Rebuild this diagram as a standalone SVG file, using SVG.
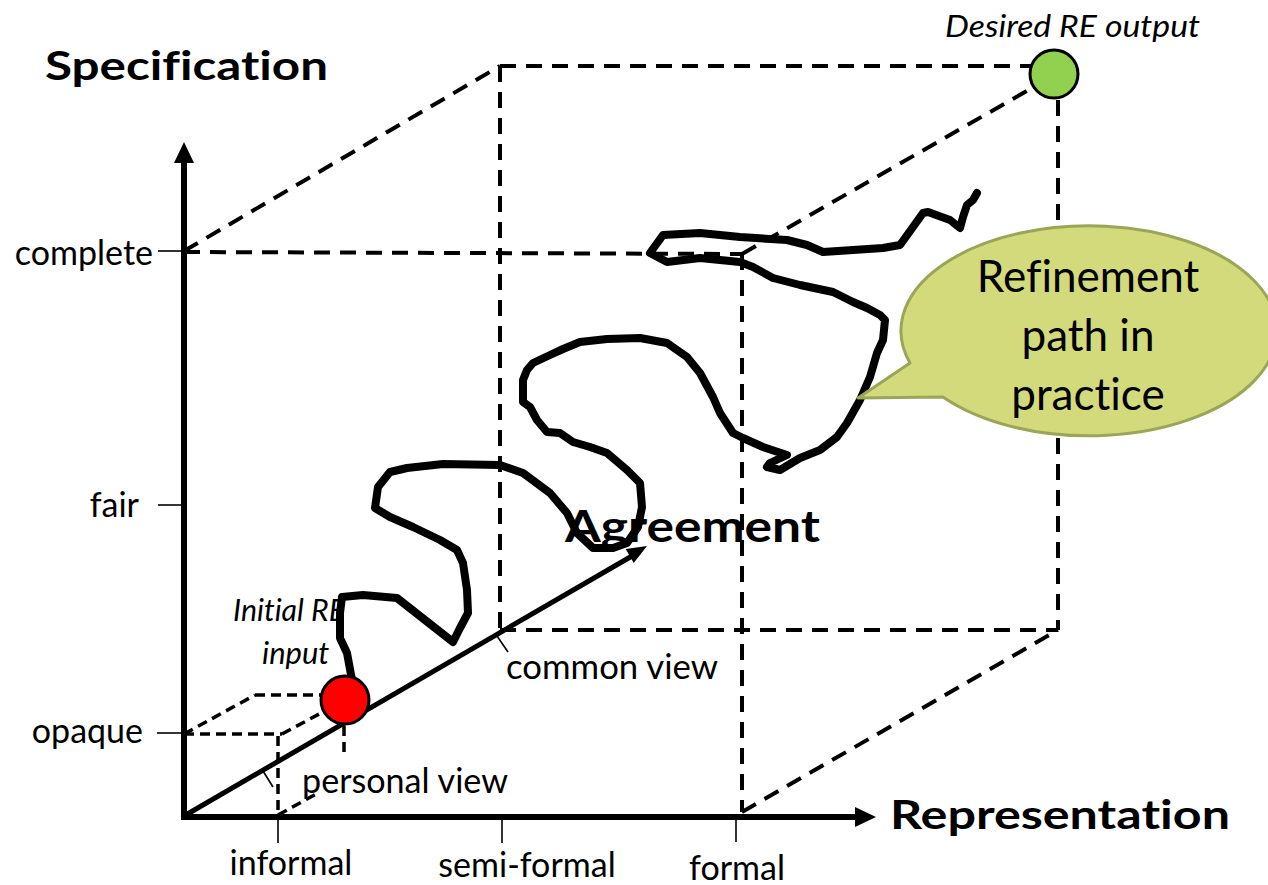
<svg xmlns="http://www.w3.org/2000/svg" width="1268" height="885" viewBox="0 0 1268 885">
  <style>
    text { font-family: Lato, "Liberation Sans", sans-serif; fill: #000; font-variant-ligatures: none; }
    .axis-title { font-weight: bold; font-size: 41px; }
    .label { font-size: 34px; }
    .note { font-size: 31px; font-style: italic; }
    .bubble-text { font-size: 44px; text-anchor: middle; }
    .axis { stroke: #000; stroke-width: 6; fill: none; }
    .tick { stroke: #000; stroke-width: 1.6; fill: none; }
    .edge { stroke: #000; stroke-width: 4; stroke-dasharray: 16 10; fill: none; }
    .edge-small { stroke: #000; stroke-width: 3.5; stroke-dasharray: 10 6; fill: none; }
    .route { stroke: #000; stroke-width: 8; fill: none; stroke-linejoin: round; stroke-linecap: round; }
  </style>

  <rect width="1268" height="885" fill="#fff"/>

  <!-- Cube edges and projection lines -->
  <g id="connectors">
    <path class="edge" d="M184,251 L500,66"/>
    <path class="edge" d="M500,66 L1032,66"/>
    <path class="edge" d="M500,66 L500,630"/>
    <path class="edge" d="M500,630 L1058,630"/>
    <path class="edge" d="M1058,100 L1058,630"/>
    <path class="edge" d="M184,252 L742,254"/>
    <path class="edge" d="M742,254 L742,812"/>
    <path class="edge" d="M742,254 L1032,88"/>
    <path class="edge" d="M742,812 L1058,630"/>

    <path class="edge-small" d="M184,734 L282,734"/>
    <path class="edge-small" d="M184,734 L255,695"/>
    <path class="edge-small" d="M255,695 L322,695"/>
    <path class="edge-small" d="M282,734 L321,713"/>
    <path class="edge-small" d="M278,736 L278,815"/>
    <path class="edge-small" d="M278,815 L318,793"/>
    <path class="edge-small" d="M344,726 L344,752"/>

    <!-- leader ticks on the agreement axis -->
    <path class="tick" d="M263,771 L273,787"/>
    <path class="tick" d="M497,636 L508,652"/>
  </g>

  <!-- Axes -->
  <g id="axes">
    <path class="axis" d="M184,816 L184,158"/>
    <polygon points="184,142 174,163 194,163" fill="#000"/>
    <path class="axis" d="M181,817 L858,817"/>
    <polygon points="876,817 855,807 855,827" fill="#000"/>
    <path style="stroke:#000;stroke-width:5;fill:none" d="M184,816 L632,556"/>
    <polygon points="647,546 633.7,562.9 625.7,549.1" fill="#000"/>

    <path class="tick" d="M158,251 L184,251"/>
    <path class="tick" d="M158,505 L184,505"/>
    <path class="tick" d="M157,733 L184,733"/>
    <path class="tick" d="M278,817 L278,843"/>
    <path class="tick" d="M502,818 L502,843"/>
    <path class="tick" d="M736,818 L736,842"/>

    <text class="axis-title" x="45" y="80" textLength="283" lengthAdjust="spacingAndGlyphs">Specification</text>
    <text class="axis-title" x="890" y="829" textLength="340" lengthAdjust="spacingAndGlyphs">Representation</text>
    <text class="axis-title" x="565" y="542" style="font-size:43px" textLength="255" lengthAdjust="spacingAndGlyphs">Agreement</text>

    <text class="label" x="153" y="265" text-anchor="end">complete</text>
    <text class="label" x="139" y="517" text-anchor="end">fair</text>
    <text class="label" x="143" y="743" text-anchor="end">opaque</text>
    <text class="label" x="291" y="875" text-anchor="middle">informal</text>
    <text class="label" x="527" y="877" text-anchor="middle">semi-formal</text>
    <text class="label" x="737" y="880" text-anchor="middle">formal</text>
    <text class="label" x="506" y="679" textLength="212" lengthAdjust="spacingAndGlyphs">common view</text>
    <text class="label" x="302" y="793" textLength="206" lengthAdjust="spacingAndGlyphs">personal view</text>
  </g>

  <!-- Refinement path as it happens in practice -->
  <g id="refinement-path">
    <polyline class="route" points="352,680 347,653 340,638 340,613 342,597 363,595 397,598 453,642 460,628 468,613 467,590 463,563 457,550 440,540 413,527 390,517 375,508 378,487 390,472 407,468 443,464 500,465 523,473 550,493 567,513 577,533 593,548 613,548 627,543 638,527 642,507 640,483 627,470 607,453 590,447 573,442 560,433 547,432 537,420 530,407 523,402 523,380 527,370 533,363 550,355 563,349 580,342 607,339 640,338 667,343 687,357 700,373 713,397 720,413 733,433 743,438 763,447 787,455 770,463 767,467 780,470 800,458 820,450 837,437 847,423 860,400 870,377 877,353 883,340 885,320 880,315 867,308 853,302 843,297 833,292 800,285 773,278 753,267 740,262 700,258 667,262 650,253 663,235 700,233 740,237 787,240 807,245 823,252 883,248 900,245 913,227 923,213 928,212 950,220 960,228 963,217 967,205 973,200 977,193"/>
  </g>

  <!-- Starting point -->
  <g id="initial-input">
    <circle cx="345" cy="700" r="24" fill="#ff0000" stroke="#000" stroke-width="3"/>
    <text class="note" x="233" y="621" textLength="112" lengthAdjust="spacingAndGlyphs">Initial RE</text>
    <text class="note" x="262" y="664">input</text>
  </g>

  <!-- Target point -->
  <g id="desired-output">
    <circle cx="1054" cy="74" r="24" fill="#92d050" stroke="#000" stroke-width="3"/>
    <text class="note" x="945" y="37" textLength="255" lengthAdjust="spacingAndGlyphs">Desired RE output</text>
  </g>

  <!-- Speech bubble -->
  <g id="callout">
    <path d="M943,397 A188,105 0 1 0 910,363 L858,398 Z" fill="#d3da7b" stroke="#9aa558" stroke-width="3" stroke-linejoin="round"/>
    <text class="bubble-text" x="1088" y="292">Refinement</text>
    <text class="bubble-text" x="1088" y="351">path in</text>
    <text class="bubble-text" x="1088" y="410">practice</text>
  </g>
</svg>
